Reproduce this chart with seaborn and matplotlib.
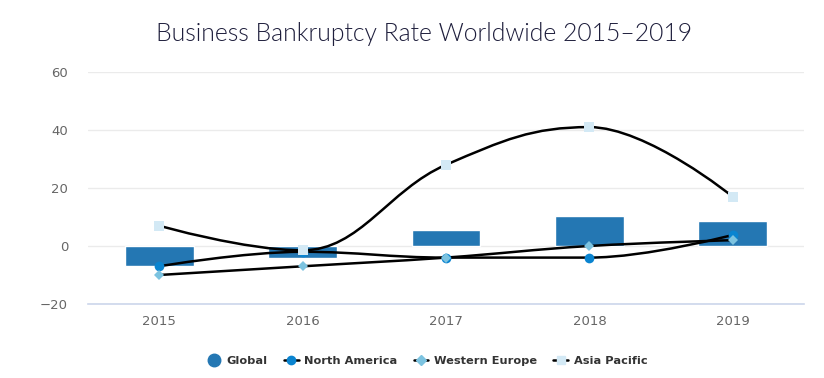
import matplotlib
matplotlib.use("Agg")
import matplotlib.pyplot as plt
from matplotlib.path import Path
from matplotlib.patches import PathPatch
from matplotlib.lines import Line2D
import numpy as np
import pandas as pd
import seaborn as sns

# data
years = ["2015", "2016", "2017", "2018", "2019"]
global_rate = [-7, -4, 5.5, 10.5, 8.5]
north_america = [-7, -2, -4, -4, 3.8]
western_europe = [-10, -7, -4, 0, 2]
asia_pacific = [7, -1.5, 28, 41, 17]

bar_color = "#2477b3"
na_color = "#0a84d0"
we_color = "#7cc3e0"
ap_color = "#d3e9f5"

sns.set_theme(style="white")
plt.rcParams["font.family"] = ["DejaVu Sans"]


def spline_path(xs, ys, smoothing=1.5):
    # highcharts-style spline through the points
    n = len(xs)
    right = [None] * n
    verts = [(xs[0], ys[0])]
    codes = [Path.MOVETO]
    for i in range(1, n):
        x, y = xs[i], ys[i]
        lx, ly = xs[i - 1], ys[i - 1]
        left_c = (x, y)
        if i < n - 1:
            nx, ny = xs[i + 1], ys[i + 1]
            d = smoothing + 1
            lcx = (smoothing * x + lx) / d
            lcy = (smoothing * y + ly) / d
            rcx = (smoothing * x + nx) / d
            rcy = (smoothing * y + ny) / d
            corr = 0
            if rcx != lcx:
                corr = (rcy - lcy) * (rcx - x) / (rcx - lcx) + y - rcy
            lcy += corr
            rcy += corr
            if lcy > ly and lcy > y:
                lcy = max(ly, y)
                rcy = 2 * y - lcy
            elif lcy < ly and lcy < y:
                lcy = min(ly, y)
                rcy = 2 * y - lcy
            if rcy > ny and rcy > y:
                rcy = max(ny, y)
                lcy = 2 * y - rcy
            elif rcy < ny and rcy < y:
                rcy = min(ny, y)
                lcy = 2 * y - rcy
            left_c = (lcx, lcy)
            right[i] = (rcx, rcy)
        prev_r = right[i - 1] if right[i - 1] is not None else (lx, ly)
        verts += [prev_r, left_c, (x, y)]
        codes += [Path.CURVE4] * 3
    return Path(verts, codes)


fig = plt.figure(figsize=(8.24, 3.78), dpi=100)
ax = fig.add_axes([0.1062, 0.1958, 0.8701, 0.6137])

df = pd.DataFrame({"year": years, "Global": global_rate})
sns.barplot(data=df, x="year", y="Global", color=bar_color, saturation=1,
            width=0.48, ax=ax, zorder=2)

xs = np.arange(len(years))
series = [
    (north_america, na_color, "o", 7),
    (western_europe, we_color, "D", 5),
    (asia_pacific, ap_color, "s", 7),
]
for vals, col, mk, ms in series:
    ax.add_patch(PathPatch(spline_path(list(xs), list(vals)), fill=False,
                           edgecolor="black", lw=1.8, zorder=3))
    ax.plot(xs, vals, linestyle="none", marker=mk, ms=ms, color=col,
            markeredgewidth=0, zorder=4)

ax.set_xlim(-0.5, 4.5)
ax.set_ylim(-20, 60)
ax.set_yticks([-20, 0, 20, 40, 60])
ax.set_yticklabels(["\u221220", "0", "20", "40", "60"])
ax.set_xlabel("")
ax.set_ylabel("")
ax.grid(axis="y", color="#ebebeb", lw=1, zorder=0)
for s in ["top", "right", "left"]:
    ax.spines[s].set_visible(False)
ax.spines["bottom"].set_color("#ccd6eb")
ax.spines["bottom"].set_linewidth(1.2)
ax.tick_params(axis="both", length=0, labelsize=9.5, labelcolor="#666666")
ax.tick_params(axis="y", pad=14)
ax.tick_params(axis="x", pad=8)

fig.text(0.515, 0.91, "Business Bankruptcy Rate Worldwide 2015\u20132019",
         ha="center", va="center", fontsize=17.8, color="#1e1e3c",
         family=["Lato", "DejaVu Sans"], fontweight=300)

handles = [
    Line2D([], [], linestyle="none", marker="o", ms=9, color=bar_color),
    Line2D([], [], color="black", lw=1.8, marker="o", ms=6, mfc=na_color, mec=na_color),
    Line2D([], [], color="black", lw=1.8, marker="D", ms=5, mfc=we_color, mec=we_color),
    Line2D([], [], color="black", lw=1.8, marker="s", ms=6, mfc=ap_color, mec=ap_color),
]
labels = ["Global", "North America", "Western Europe", "Asia Pacific"]
fig.legend(handles, labels, loc="center", bbox_to_anchor=(0.518, 0.045), ncol=4,
           frameon=False, handlelength=1.3, columnspacing=1.4, handletextpad=0.5,
           prop={"weight": "bold", "size": 8.2}, labelcolor="#333333")

fig.savefig("out.png", dpi=100)
